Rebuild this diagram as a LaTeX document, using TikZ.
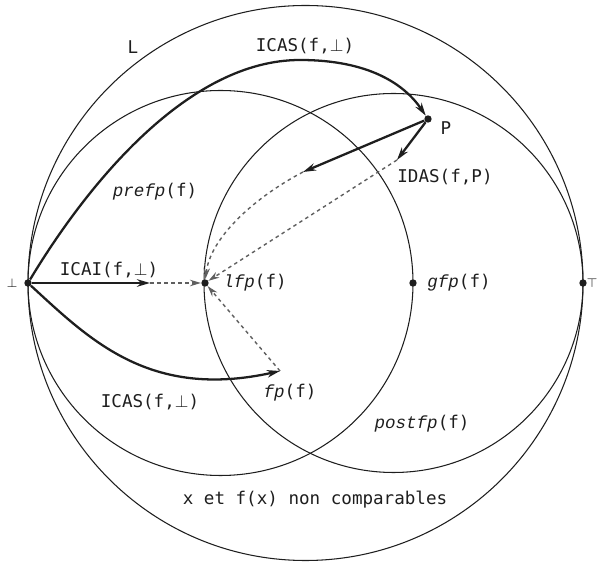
\documentclass[tikz,border=0pt]{standalone}
\usepackage{fontspec}
\setmonofont{DejaVu Sans Mono}
\newfontfamily\slantfont{Liberation Mono}
\usepackage{tikz}
\usetikzlibrary{arrows.meta, positioning}
\definecolor{inkgray}{RGB}{30,30,30}
\definecolor{dashgray}{RGB}{95,95,95}
\newcommand{\fpname}[1]{{\slantfont\itshape #1}(f)}

\begin{document}
\begin{tikzpicture}[
    x=0.02cm, y=-0.02cm,
    region/.style={draw=inkgray, line width=0.6pt},
    point/.style={circle, fill=inkgray, inner sep=0pt, minimum size=4.2pt},
    lbl/.style={font=\ttfamily\fontsize{10}{12}\selectfont, text=inkgray, inner sep=1pt},
    endlbl/.style={font=\fontsize{7.5}{9}\selectfont, text=inkgray, inner sep=0pt},
    iter/.style={-{Stealth[length=2.6mm, width=1.5mm]}, line width=1.3pt, draw=inkgray},
    approx/.style={-{Stealth[length=2.2mm, width=1.3mm]}, dash pattern=on 2pt off 2pt, line width=0.8pt, draw=dashgray}
]
\useasboundingbox (0,0) rectangle (599,563);

% Lattice L, pre- and post-fixpoints
\draw[region] (305.5,283) circle[radius=277.5];
\draw[region] (220.5,283) circle[radius=192.5];
\draw[region] (393.5,283) circle[radius=189.5];

% Points
\node[point] (bot) at (28,283) {};
\node[point] (top) at (583,283) {};
\node[point] (lfp) at (205,283) {};
\node[point] (gfp) at (413,283) {};
\node[point] (P) at (428,119) {};
\coordinate (fp) at (280,371);
\coordinate (icai) at (150,283);
\coordinate (idasA) at (303,172);
\coordinate (idasB) at (397,160);

% Labels
\node[endlbl] (botlbl) at (12,283) {$\bot$};
\node[endlbl, anchor=east] (toplbl) at (598,283) {$\top$};
\node[lbl] (Llbl) at (133,47) {L};
\node[lbl] (icasup) at (305,46) {ICAS(f,$\bot$)};
\node[lbl] (Plbl) at (446,128) {P};
\node[lbl] (idas) at (445,177) {IDAS(f,P)};
\node[lbl] (prefp) at (155,192) {\fpname{prefp}};
\node[lbl] (icailbl) at (109,270) {ICAI(f,$\bot$)};
\node[lbl] (lfplbl) at (255,283) {\fpname{lfp}};
\node[lbl] (gfplbl) at (459,283) {\fpname{gfp}};
\node[lbl] (fplbl) at (290,393) {\fpname{fp}};
\node[lbl] (icasdown) at (150,402) {ICAS(f,$\bot$)};
\node[lbl] (postfp) at (422,424) {\fpname{postfp}};
\node[lbl] (noncomp) at (315,500) {x et f(x) non comparables};

% Upward iteration to P
\draw[iter] (bot) .. controls (90,180) and (190,60) .. (300,60) .. controls (370,60) and (405,85) .. (P);

% Downward iterations from P
\draw[iter] (P) -- (idasA);
\draw[iter] (P) -- (idasB);
\draw[approx] (idasA) .. controls (250,200) and (210,240) .. (lfp);
\draw[approx] (idasB) -- (lfp);

% Iterations from bottom
\draw[iter] (bot) -- (icai);
\draw[approx] (icai) -- (lfp);
\draw[iter] (bot) .. controls (90,340) and (150,400) .. (fp);
\draw[approx] (fp) -- (lfp);

\end{tikzpicture}
\end{document}
